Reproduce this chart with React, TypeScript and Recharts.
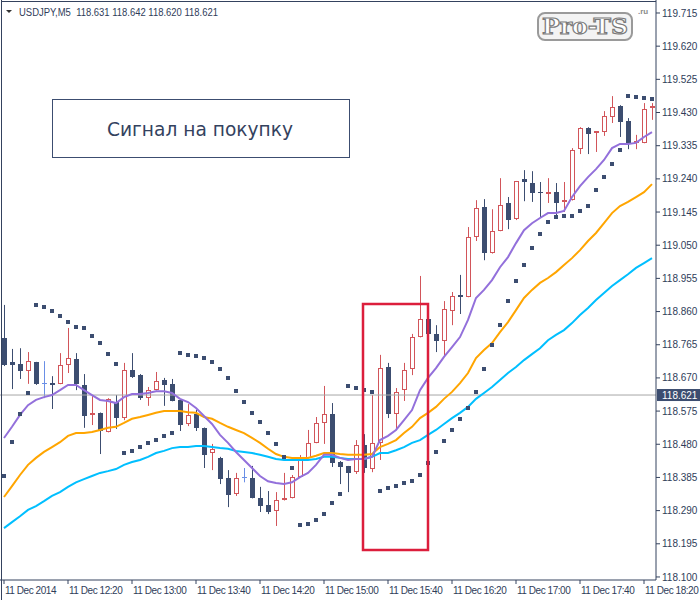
import React from 'react';
import { ComposedChart, Bar, Line, XAxis, YAxis, ReferenceLine } from 'recharts';

const times = [
  '11:40','11:45','11:50','11:55',
  '12:00','12:05','12:10','12:15','12:20','12:25','12:30','12:35','12:40','12:45','12:50','12:55',
  '13:00','13:05','13:10','13:15','13:20','13:25','13:30','13:35','13:40','13:45','13:50','13:55',
  '14:00','14:05','14:10','14:15','14:20','14:25','14:30','14:35','14:40','14:45','14:50','14:55',
  '15:00','15:05','15:10','15:15','15:20','15:25','15:30','15:35','15:40','15:45','15:50','15:55',
  '16:00','16:05','16:10','16:15','16:20','16:25','16:30','16:35','16:40','16:45','16:50','16:55',
  '17:00','17:05','17:10','17:15','17:20','17:25','17:30','17:35','17:40','17:45','17:50','17:55',
  '18:00','18:05','18:10','18:15','18:20','18:25',
];

const opens = [
  118.784,118.715,118.710,118.690,118.715,118.655,118.655,118.653,118.707,118.724,
  118.650,118.564,118.570,118.515,118.601,118.555,118.692,118.678,118.612,118.635,
  118.664,118.653,118.607,118.538,118.567,118.527,118.455,118.441,118.383,118.337,
  118.386,118.383,118.326,118.306,118.289,118.320,118.326,118.386,118.441,118.484,
  118.541,118.567,118.429,118.417,118.400,118.478,118.409,118.484,118.701,118.567,
  118.635,118.695,118.787,118.840,118.796,118.775,118.862,118.907,118.902,119.073,
  119.159,119.027,119.091,119.171,119.125,119.240,119.228,119.202,119.197,119.202,
  119.174,119.179,119.325,119.387,119.370,119.374,119.417,119.449,119.406,119.343,
  119.343,119.443,
];
const highs = [
  118.879,118.753,118.755,118.744,118.716,118.718,118.675,118.741,118.813,118.741,
  118.681,118.618,118.571,118.612,118.621,118.713,118.741,118.681,118.644,118.687,
  118.670,118.667,118.608,118.595,118.578,118.528,118.481,118.444,118.406,118.398,
  118.412,118.418,118.358,118.346,118.343,118.398,118.392,118.449,118.521,118.558,
  118.647,118.598,118.432,118.418,118.492,118.509,118.621,118.736,118.713,118.641,
  118.713,118.796,118.962,118.841,118.821,118.890,118.916,118.965,119.102,119.179,
  119.182,119.153,119.242,119.188,119.234,119.265,119.262,119.231,119.242,119.228,
  119.231,119.328,119.388,119.388,119.377,119.434,119.477,119.451,119.414,119.366,
  119.457,119.457,
];
const lows = [
  118.704,118.638,118.667,118.653,118.650,118.612,118.581,118.652,118.684,118.635,
  118.527,118.535,118.452,118.514,118.524,118.549,118.670,118.607,118.590,118.634,
  118.590,118.603,118.518,118.532,118.518,118.412,118.406,118.366,118.300,118.332,
  118.371,118.325,118.286,118.280,118.246,118.319,118.325,118.385,118.440,118.483,
  118.481,118.415,118.366,118.343,118.395,118.398,118.400,118.435,118.555,118.521,
  118.604,118.678,118.786,118.795,118.744,118.730,118.821,118.853,118.901,119.062,
  119.007,119.026,119.090,119.096,119.122,119.176,119.174,119.128,119.171,119.131,
  119.145,119.178,119.311,119.311,119.317,119.363,119.400,119.360,119.325,119.325,
  119.342,119.409,
];
const closes = [
  118.707,118.707,118.690,118.718,118.653,118.655,118.650,118.707,118.727,118.653,
  118.561,118.570,118.518,118.610,118.555,118.692,118.673,118.612,118.635,118.661,
  118.650,118.604,118.535,118.564,118.527,118.450,118.467,118.380,118.335,118.383,
  118.386,118.326,118.303,118.286,118.320,118.326,118.386,118.444,118.484,118.541,
  118.567,118.426,118.415,118.398,118.478,118.412,118.484,118.698,118.567,118.630,
  118.692,118.787,118.839,118.796,118.775,118.867,118.904,118.902,119.073,119.156,
  119.027,119.091,119.165,119.122,119.233,119.231,119.199,119.199,119.202,119.171,
  119.179,119.323,119.387,119.369,119.376,119.420,119.446,119.403,119.343,119.348,
  119.440,119.449,
];
const sarValues = [
  118.389,118.486,118.567,118.627,118.879,118.873,118.862,118.847,118.830,118.816,
  118.813,118.790,118.770,118.738,118.710,118.455,118.461,118.472,118.484,118.492,
  118.504,118.512,118.741,118.736,118.733,118.727,118.715,118.695,118.670,118.632,
  118.601,118.570,118.544,118.512,118.481,118.444,118.412,118.249,118.251,118.263,
  118.280,118.312,118.337,118.647,118.641,118.635,118.630,118.346,118.355,118.360,
  118.369,118.374,118.392,118.426,118.458,118.489,118.521,118.553,118.584,118.630,
  118.695,118.764,118.821,118.890,118.947,118.993,119.042,119.082,119.116,119.131,
  119.133,119.133,119.148,119.162,119.208,119.245,119.282,119.323,119.477,119.474,
  119.472,119.469,
];
const maFast = [
  118.498,118.530,118.564,118.592,118.607,118.615,118.621,118.635,118.650,118.650,
  118.635,118.621,118.607,118.604,118.598,118.615,118.624,118.624,118.627,118.632,
  118.632,118.627,118.610,118.601,118.584,118.561,118.538,118.507,118.484,118.458,
  118.435,118.412,118.389,118.374,118.369,118.366,118.371,118.386,118.398,118.421,
  118.450,118.450,118.441,118.435,118.438,118.438,118.444,118.492,118.504,118.521,
  118.549,118.578,118.635,118.670,118.698,118.730,118.758,118.787,118.836,118.899,
  118.922,118.950,118.987,119.016,119.056,119.093,119.113,119.128,119.142,119.142,
  119.148,119.188,119.219,119.245,119.268,119.294,119.328,119.340,119.340,119.343,
  119.360,119.374,
];
const maMid = [
  118.329,118.360,118.392,118.421,118.441,118.458,118.472,118.486,118.504,118.512,
  118.512,118.515,118.521,118.527,118.530,118.541,118.553,118.558,118.564,118.570,
  118.575,118.575,118.575,118.572,118.570,118.558,118.553,118.541,118.530,118.521,
  118.512,118.498,118.484,118.467,118.452,118.444,118.441,118.441,118.441,118.447,
  118.455,118.455,118.452,118.450,118.450,118.450,118.452,118.472,118.481,118.492,
  118.512,118.530,118.555,118.570,118.587,118.610,118.630,118.655,118.684,118.727,
  118.750,118.770,118.801,118.830,118.864,118.899,118.922,118.942,118.956,118.973,
  118.993,119.013,119.036,119.062,119.085,119.113,119.142,119.162,119.174,119.188,
  119.202,119.225,
];
const maSlow = [
  118.240,118.257,118.274,118.292,118.303,118.317,118.332,118.343,118.358,118.371,
  118.380,118.389,118.398,118.403,118.409,118.421,118.429,118.435,118.444,118.455,
  118.461,118.469,118.472,118.472,118.475,118.475,118.472,118.469,118.467,118.461,
  118.458,118.455,118.450,118.444,118.438,118.435,118.435,118.435,118.435,118.438,
  118.444,118.444,118.441,118.438,118.438,118.438,118.444,118.455,118.455,118.463,
  118.472,118.484,118.492,118.507,118.521,118.538,118.555,118.570,118.587,118.610,
  118.627,118.644,118.664,118.684,118.701,118.721,118.738,118.755,118.778,118.793,
  118.807,118.827,118.850,118.870,118.893,118.913,118.933,118.950,118.967,118.985,
  118.999,119.013,
];

const xTickTimes = ['11:40','12:20','13:00','13:40','14:20','15:00','15:40','16:20','17:00','17:40','18:20'];
const xTickLabels = ['11 Dec 2014','11 Dec 12:20','11 Dec 13:00','11 Dec 13:40','11 Dec 14:20','11 Dec 15:00','11 Dec 15:40','11 Dec 16:20','11 Dec 17:00','11 Dec 17:40','11 Dec 18:20'];
const yTicks = [119.715,119.62,119.525,119.43,119.335,119.24,119.145,119.05,118.955,118.86,118.765,118.67,118.575,118.48,118.385,118.29,118.195,118.1];
const lastPrice = 118.621;
const headerSymbol = 'USDJPY,M5';
const headerOHLC = ['118.631', '118.642', '118.620', '118.621'];
const signalText = 'Сигнал на покупку';

const data = times.map((t, i) => ({
  t,
  o: opens[i],
  h: highs[i],
  l: lows[i],
  c: closes[i],
  range: [lows[i], highs[i]],
  sar: sarValues[i],
  ma1: maFast[i],
  ma2: maMid[i],
  ma3: maSlow[i],
}));

const BEAR = '#3C4D70';
const BULL = '#D2555A';
const DOJI = '#6A8FE6';
const AX = '#34425E';
const TXT = '#2F3D5A';
const FONT = '"Liberation Sans", Arial, sans-serif';

const Candle = (props: any) => {
  const { x, y, width, height, payload } = props;
  if (!payload || x == null || y == null) return null;
  const { o, h, l, c } = payload;
  const top = Math.min(y, y + height);
  const bot = Math.max(y, y + height);
  const span = h - l;
  const k = span > 0 ? (bot - top) / span : 0;
  const py = (v: number) => top + (h - v) * k;
  const cx = Math.floor(x + width / 2) + 0.5;
  const bt = Math.round(py(Math.max(o, c)));
  const bb = Math.round(py(Math.min(o, c)));
  if (o === c) {
    return (
      <g>
        <line x1={cx} y1={top} x2={cx} y2={bot} stroke={DOJI} strokeWidth={1} />
        <line x1={cx - 2.5} y1={bt + 0.5} x2={cx + 2.5} y2={bt + 0.5} stroke={DOJI} strokeWidth={1} />
      </g>
    );
  }
  if (c > o) {
    return (
      <g>
        <line x1={cx} y1={top} x2={cx} y2={bot} stroke={BULL} strokeWidth={1} />
        <rect x={cx - 2} y={bt + 0.5} width={4} height={Math.max(1, bb - bt - 1)} fill="#ffffff" stroke={BULL} strokeWidth={1} />
      </g>
    );
  }
  return (
    <g>
      <line x1={cx} y1={top} x2={cx} y2={bot} stroke={BEAR} strokeWidth={1} />
      <rect x={cx - 2.5} y={bt} width={5} height={Math.max(1, bb - bt)} fill={BEAR} />
    </g>
  );
};

const SarDot = (p: any) => {
  if (p.cx == null || p.cy == null) return <g key={p.index} />;
  return <rect key={p.index} x={Math.round(p.cx) - 2} y={Math.round(p.cy) - 2} width={4} height={4} fill={BEAR} />;
};

const XTick = (p: any) => {
  const idx = xTickTimes.indexOf(p.payload.value);
  const label = idx >= 0 ? xTickLabels[idx] : p.payload.value;
  return (
    <text x={p.x + 1} y={594} fontSize={10} fontFamily={FONT} fill={TXT} textAnchor="start" letterSpacing={-0.45}>
      {label}
    </text>
  );
};

const PriceLabel = (p: any) => {
  const vb = p.viewBox || {};
  const right = (vb.x || 0) + (vb.width || 0);
  const yy = vb.y || 0;
  return (
    <g>
      <rect x={right + 1} y={yy - 6} width={44} height={12} fill={BEAR} />
      <text x={right + 6} y={yy + 3.5} fontSize={10} fontFamily={FONT} fill="#ffffff">
        {lastPrice.toFixed(3)}
      </text>
    </g>
  );
};

export default function App() {
  return (
    <div style={{ position: 'absolute', left: 0, top: 0, width: 700, height: 600, background: '#ffffff' }}>
      <ComposedChart width={700} height={600} data={data} margin={{ top: 0, right: 0, bottom: 0, left: 0 }}>
        <XAxis
          dataKey="t"
          ticks={xTickTimes}
          interval={0}
          height={20}
          tickSize={4}
          axisLine={{ stroke: AX }}
          tickLine={{ stroke: AX }}
          tick={XTick}
        />
        <YAxis
          orientation="right"
          type="number"
          domain={[118.0913, 119.7522]}
          allowDataOverflow
          ticks={yTicks}
          interval={0}
          width={44}
          tickSize={4}
          tickMargin={2}
          axisLine={{ stroke: AX }}
          tickLine={{ stroke: AX }}
          tick={{ fill: TXT, fontSize: 10, fontFamily: FONT }}
          tickFormatter={(v: number) => v.toFixed(3)}
        />
        <ReferenceLine y={lastPrice} stroke="#A6A6A6" strokeWidth={1} label={PriceLabel} />
        <Bar dataKey="range" barSize={6} shape={Candle} isAnimationActive={false} />
        <Line dataKey="ma3" type="linear" stroke="#00BFFF" strokeWidth={2} dot={false} activeDot={false} isAnimationActive={false} />
        <Line dataKey="ma2" type="linear" stroke="#FFA500" strokeWidth={2} dot={false} activeDot={false} isAnimationActive={false} />
        <Line dataKey="ma1" type="linear" stroke="#9370DB" strokeWidth={2} dot={false} activeDot={false} isAnimationActive={false} />
        <Line dataKey="sar" stroke="none" dot={SarDot} activeDot={false} isAnimationActive={false} />
      </ComposedChart>
      <svg width={700} height={600} style={{ position: 'absolute', left: 0, top: 0, pointerEvents: 'none' }}>
        <line x1={1.5} y1={0} x2={1.5} y2={600} stroke={AX} strokeWidth={1} />
        <line x1={1} y1={1.5} x2={656} y2={1.5} stroke={AX} strokeWidth={1} />
        <polygon points="6,10 12,10 9,13" fill="#333" />
        <text x={19} y={15.5} fontSize={10} fontFamily={FONT} fill={TXT} textLength={199} lengthAdjust="spacingAndGlyphs" style={{ whiteSpace: 'pre' }}>
          {headerSymbol + '  ' + headerOHLC.join(' ')}
        </text>
        <rect x={52.5} y={99.5} width={297} height={58} fill="#ffffff" stroke={BEAR} strokeWidth={1} />
        <text x={107} y={136} fontSize={20} fontFamily='"DejaVu Sans", sans-serif' fill="#34425E" textLength={186} lengthAdjust="spacingAndGlyphs">
          {signalText}
        </text>
        <rect x={363} y={304} width={65} height={246} fill="none" stroke="#DC1E3C" strokeWidth={2.5} />
        <rect x={538} y={13} width={94} height={27} rx={7} fill="#f3f3f3" stroke="#9a9a9a" strokeWidth={2} />
        <text x={542} y={34} fontSize={23} fontWeight="bold" fontFamily='"DejaVu Serif", serif' fill="#ffffff" stroke="#7a7a7a" strokeWidth={1.2} textLength={86} lengthAdjust="spacingAndGlyphs">
          Pro-TS
        </text>
        <text x={638} y={14} fontSize={8} fontWeight="bold" fontFamily={FONT} fill="#8a8a8a">.ru</text>
      </svg>
    </div>
  );
}
